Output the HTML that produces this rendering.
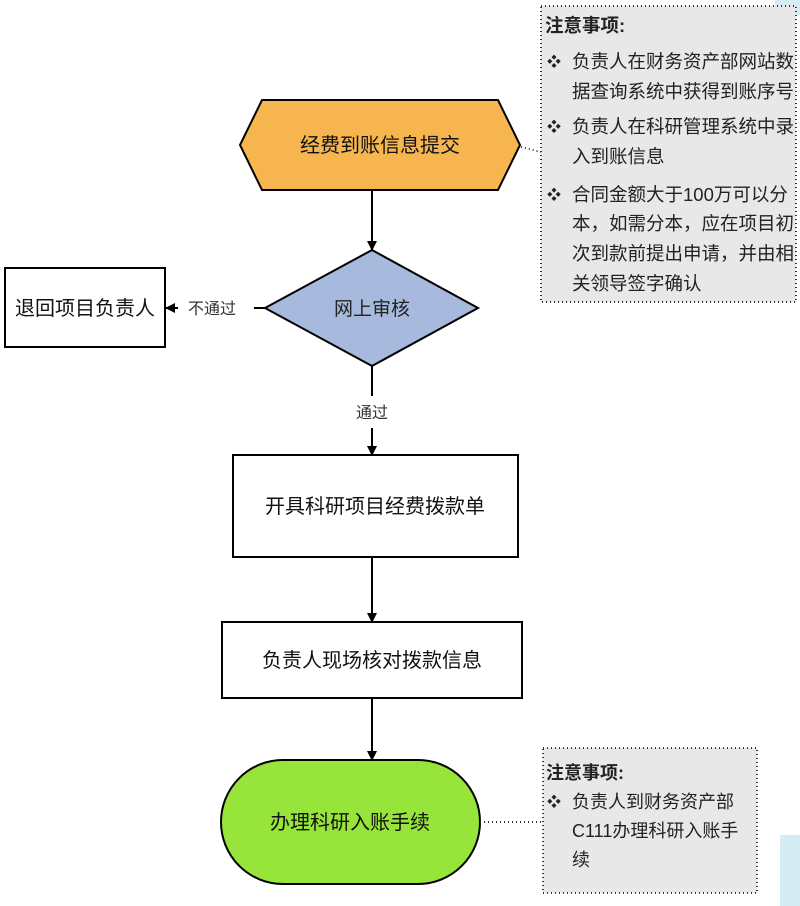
<!DOCTYPE html>
<html><head><meta charset="utf-8"><style>
html,body{margin:0;padding:0;background:#fff;}
svg{display:block;font-family:"Liberation Sans","Noto Sans CJK SC",sans-serif;}
</style></head><body>
<svg width="800" height="906" viewBox="0 0 800 906" xmlns="http://www.w3.org/2000/svg">
<defs><marker id="a" markerWidth="10" markerHeight="10" refX="9" refY="5" orient="auto" markerUnits="userSpaceOnUse"><path d="M0,0 L10,5 L0,10 z" fill="#000"/></marker></defs>
<rect x="0" y="0" width="800" height="906" fill="#fff"/>
<rect x="775" y="0" width="25" height="15" fill="#d6ecf5"/>
<rect x="780" y="835" width="20" height="71" fill="#d6ecf5"/>
<!-- top note -->
<rect x="541" y="6" width="255" height="296" fill="#e8e8e8" stroke="#333" stroke-width="2" stroke-dasharray="1,3"/>
<line x1="521" y1="147" x2="541" y2="152" stroke="#333" stroke-width="2" stroke-dasharray="1,3"/>
<g font-size="18.5" fill="#222">
<text x="545" y="32" font-weight="bold">注意事项:</text>
<text x="547" y="67" font-size="14">❖</text><text x="572" y="68">负责人在财务资产部网站数</text>
<text x="572" y="98">据查询系统中获得到账序号</text>
<text x="547" y="132" font-size="14">❖</text><text x="572" y="133">负责人在科研管理系统中录</text>
<text x="572" y="163">入到账信息</text>
<text x="547" y="200" font-size="14">❖</text><text x="572" y="201">合同金额大于100万可以分</text>
<text x="572" y="230">本，如需分本，应在项目初</text>
<text x="572" y="260">次到款前提出申请，并由相</text>
<text x="572" y="290">关领导签字确认</text>
</g>
<!-- hexagon -->
<polygon points="240,145 262,100 498,100 520,145 498,190 262,190" fill="#f7b54f" stroke="#000" stroke-width="2"/>
<text x="380" y="152" font-size="20" text-anchor="middle" fill="#111">经费到账信息提交</text>
<line x1="372" y1="190" x2="372" y2="250" stroke="#000" stroke-width="2" marker-end="url(#a)"/>
<!-- diamond -->
<polygon points="372,250 478,308 372,366 265,308" fill="#a7b9dc" stroke="#000" stroke-width="2"/>
<text x="372" y="315" font-size="19" text-anchor="middle" fill="#222">网上审核</text>
<line x1="254" y1="308" x2="265" y2="308" stroke="#000" stroke-width="2"/>
<text x="212" y="314" font-size="16" text-anchor="middle" fill="#333">不通过</text>
<line x1="178" y1="308" x2="166" y2="308" stroke="#000" stroke-width="2" marker-end="url(#a)"/>
<rect x="5" y="268" width="160" height="79" fill="#fff" stroke="#000" stroke-width="2"/>
<text x="85" y="315" font-size="20" text-anchor="middle" fill="#111">退回项目负责人</text>
<line x1="372" y1="366" x2="372" y2="396" stroke="#000" stroke-width="2"/>
<text x="372" y="418" font-size="16" text-anchor="middle" fill="#333">通过</text>
<line x1="372" y1="428" x2="372" y2="455" stroke="#000" stroke-width="2" marker-end="url(#a)"/>
<rect x="233" y="455" width="285" height="102" fill="#fff" stroke="#000" stroke-width="2"/>
<text x="375" y="513" font-size="20" text-anchor="middle" fill="#111">开具科研项目经费拨款单</text>
<line x1="372" y1="557" x2="372" y2="622" stroke="#000" stroke-width="2" marker-end="url(#a)"/>
<rect x="222" y="622" width="300" height="76" fill="#fff" stroke="#000" stroke-width="2"/>
<text x="372" y="667" font-size="20" text-anchor="middle" fill="#111">负责人现场核对拨款信息</text>
<line x1="372" y1="698" x2="372" y2="760" stroke="#000" stroke-width="2" marker-end="url(#a)"/>
<rect x="221" y="760" width="259" height="124" rx="62" ry="62" fill="#97e43a" stroke="#000" stroke-width="2"/>
<text x="350" y="829" font-size="20" text-anchor="middle" fill="#111">办理科研入账手续</text>
<line x1="480" y1="822" x2="543" y2="822" stroke="#333" stroke-width="2" stroke-dasharray="1,3"/>
<rect x="543" y="748" width="214" height="145" fill="#e8e8e8" stroke="#333" stroke-width="2" stroke-dasharray="1,3"/>
<g font-size="18" fill="#222">
<text x="546" y="779" font-weight="bold">注意事项:</text>
<text x="547" y="807" font-size="14">❖</text><text x="572" y="808">负责人到财务资产部</text>
<text x="572" y="837">C111办理科研入账手</text>
<text x="572" y="866">续</text>
</g>
</svg>
</body></html>
